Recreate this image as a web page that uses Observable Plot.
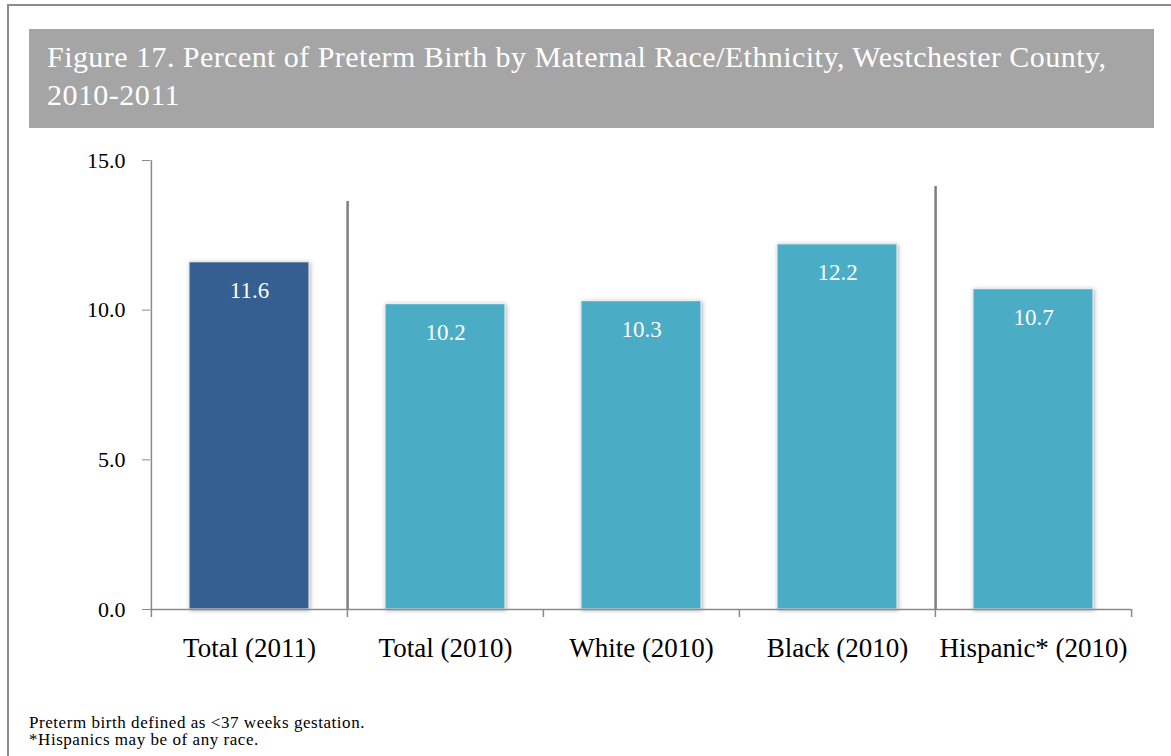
<!DOCTYPE html>
<html>
<head>
<meta charset="utf-8">
<script src="https://cdn.jsdelivr.net/npm/d3@7"></script>
<script src="https://cdn.jsdelivr.net/npm/@observablehq/plot@0.6"></script>
<style>
  html, body { margin: 0; padding: 0; background: #fff; }
  #page { position: relative; width: 1171px; height: 756px; overflow: hidden; font-family: "Liberation Serif", "DejaVu Serif", serif; }
  #frame { position: absolute; left: 7px; top: 4px; width: 1300px; height: 900px; border-top: 2px solid #8c8c8c; border-left: 2px solid #8c8c8c; }
  #title { position: absolute; left: 29px; top: 29px; width: 1125px; height: 99px; background: #a5a5a5; color: #fff; box-sizing: border-box; padding: 9px 0 0 18px; font-size: 30px; line-height: 38px; letter-spacing: 0.45px; white-space: nowrap; }
  #chart { position: absolute; left: 0; top: 140px; }
  #notes { position: absolute; left: 29px; top: 714px; font-size: 17px; line-height: 17px; letter-spacing: 0.55px; color: #000; }
</style>
</head>
<body>
<div id="page">
  <div id="frame"></div>
  <div id="title">Figure 17. Percent of Preterm Birth by Maternal Race/Ethnicity, Westchester County,<br>2010-2011</div>
  <div id="chart"></div>
  <div id="notes">Preterm birth defined as &lt;37 weeks gestation.<br>*Hispanics may be of any race.</div>
</div>
<script>
const categories = ["Total (2011)", "Total (2010)", "White (2010)", "Black (2010)", "Hispanic* (2010)"];
const values = [11.6, 10.2, 10.3, 12.2, 10.7];
const groups = ["2011", "2010", "2010", "2010", "2010"];
const yTicks = [0, 5, 10, 15];
// vertical separators drawn after these categories, with their top value
const separatorAfter = ["Total (2011)", "Black (2010)"];
const separatorTop = [13.9, 14.4];

const data = categories.map((c, i) => ({category: c, value: values[i], group: groups[i]}));
const separators = separatorAfter.map((c, i) => ({category: c, top: separatorTop[i]}));

const width = 1171, marginLeft = 150, marginRight = 40;
const step = (width - marginLeft - marginRight) / categories.length;

const chart = Plot.plot({
  width,
  height: 529,
  marginTop: 20,
  marginBottom: 60,
  marginLeft,
  marginRight,
  style: {fontFamily: "'Liberation Serif', serif", background: "transparent", overflow: "visible"},
  x: {domain: categories, paddingInner: 0.39, paddingOuter: 0.195, label: null},
  y: {domain: [0, 15], label: null},
  color: {domain: ["2011", "2010"], range: ["#365f91", "#4bacc6"]},
  marks: [
    Plot.barY(data, {x: "category", y: "value", fill: "group", stroke: "#f4f4f4", strokeWidth: 1}),
    Plot.text(data, {x: "category", y: "value", text: d => d.value.toFixed(1), dy: 28, fill: "white", fontSize: 23}),
    Plot.ruleY([0], {stroke: "#8a8a8a", strokeWidth: 1.5}),
    Plot.ruleX(categories.slice(0, 1), {y1: 0, y2: 15, dx: -step / 2, stroke: "#8a8a8a", strokeWidth: 1.5}),
    Plot.ruleX(categories, {y1: 0, y2: 0, dx: -step / 2, insetBottom: -8, stroke: "#8a8a8a", strokeWidth: 1.5}),
    Plot.ruleX(categories.slice(-1), {y1: 0, y2: 0, dx: step / 2, insetBottom: -8, stroke: "#8a8a8a", strokeWidth: 1.5}),
    Plot.ruleX(separators, {x: "category", y1: 0, y2: "top", dx: step / 2, insetBottom: -8, stroke: "#7f7f7f", strokeWidth: 2.5}),
    Plot.axisY(yTicks, {tickFormat: d => d.toFixed(1), tickSize: 8, tickPadding: 17, fontSize: 22, stroke: "#8a8a8a", fill: "#000"}),
    Plot.axisX({tickSize: 0, tickPadding: 28, fontSize: 27, fill: "#000"})
  ]
});
d3.select(chart).selectAll('g[aria-label="bar"] rect').style("filter", "drop-shadow(1px 1px 2px rgba(0,0,0,0.3))");
document.getElementById("chart").appendChild(chart);
</script>
</body>
</html>
